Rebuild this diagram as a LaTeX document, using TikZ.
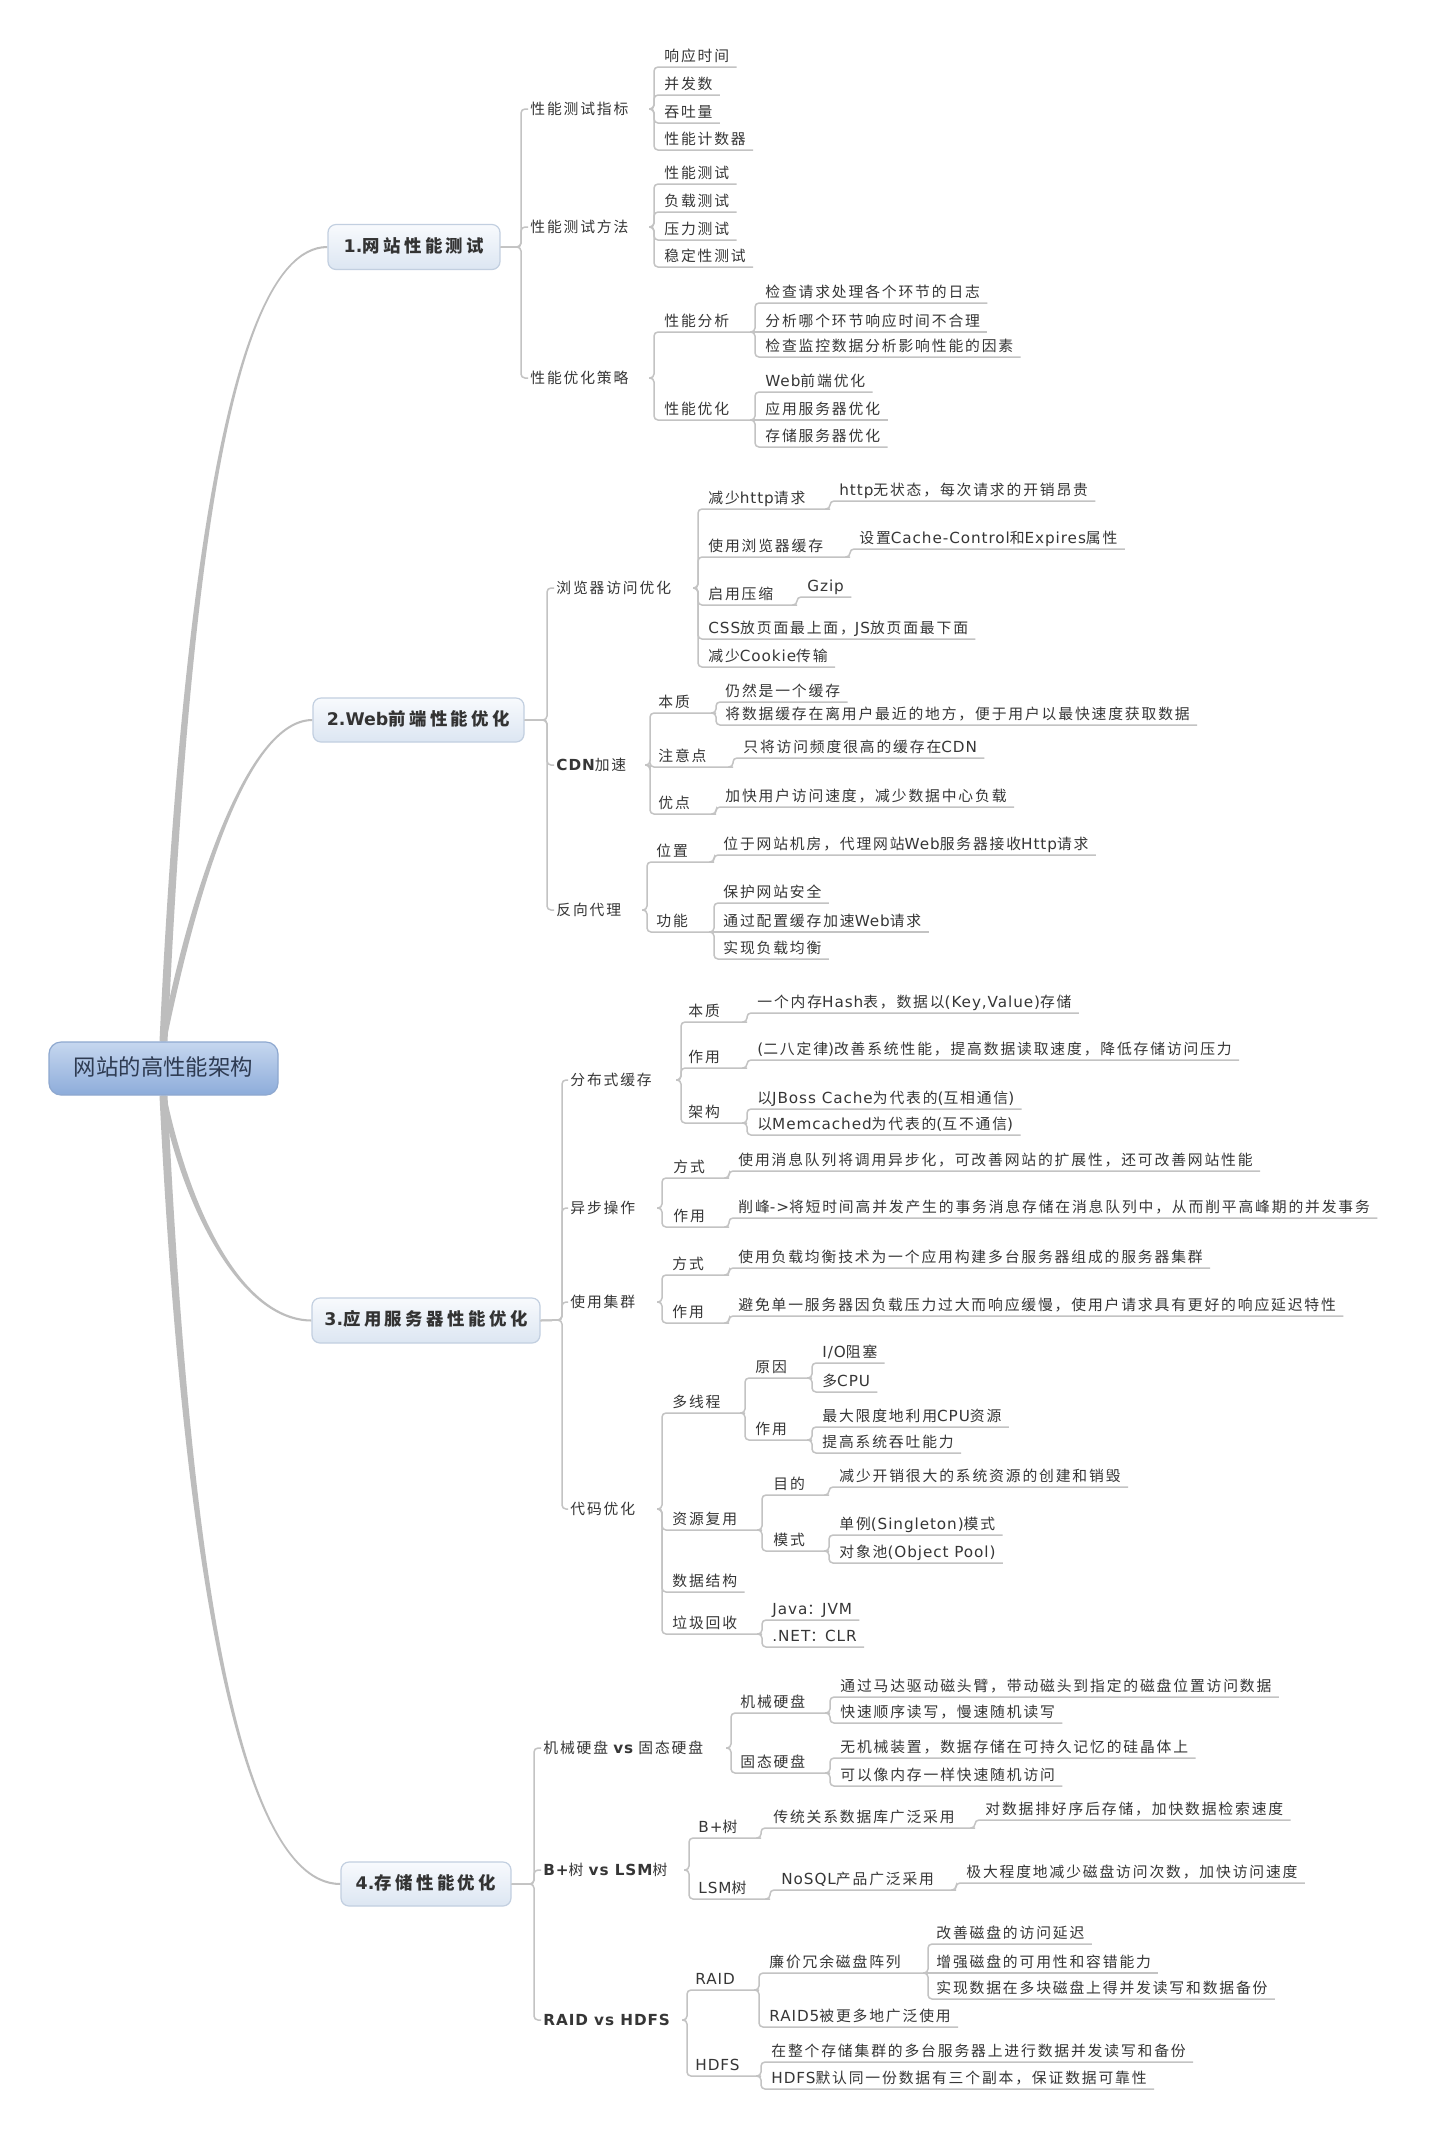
\documentclass[tikz,border=0pt]{standalone}
\usepackage{fontspec}
\usetikzlibrary{backgrounds}
\newfontfamily\cjkA[LetterSpace=12.5]{Noto Sans CJK SC}
\newfontfamily\cjkB[LetterSpace=20]{Noto Sans CJK SC}
\newfontfamily\cjkR{Noto Sans CJK SC}
\newfontfamily\latA[LetterSpace=6,Scale=1.03]{DejaVu Sans}
\newfontfamily\latB{DejaVu Sans}
\newcommand\curlat{\latA}
\newcommand\lat[1]{{\curlat #1}}
\newcommand\blat[1]{{\curlat\bfseries #1}}
\newcommand\leaffont{\cjkA\fontsize{7.4pt}{8.8pt}\selectfont\let\curlat\latA}
\newcommand\boxfont{\cjkB\fontsize{8.7pt}{10pt}\selectfont\bfseries\let\curlat\latB}
\newcommand\rootfont{\cjkR\fontsize{11.2pt}{13pt}\selectfont}
\definecolor{tx}{HTML}{363636}
\definecolor{ln}{HTML}{C3C3C3}
\definecolor{rl}{HTML}{BDBDBD}
\definecolor{bxt}{HTML}{F8FAFD}
\definecolor{bxb}{HTML}{DCE6F2}
\definecolor{bxd}{HTML}{C2CFE0}
\definecolor{bx}{HTML}{333333}
\definecolor{rtt}{HTML}{C6D7EF}
\definecolor{rtb}{HTML}{8DACDA}
\definecolor{rtd}{HTML}{8EA8CF}
\definecolor{rtx}{HTML}{2E3B52}
\tikzset{
  lf/.style={anchor=south west, xshift=-3.5pt, inner xsep=3.5pt, inner ysep=0pt, text depth=2.8pt, font=\leaffont, text=tx},
  ltwo/.style={anchor=west, inner xsep=0pt, inner ysep=0pt, text height=6pt, text depth=1pt, font=\leaffont, text=tx},
  con/.style={draw=ln, line width=0.75pt, rounded corners=2pt},
  topic/.style={rounded corners=4pt, draw=bxd, line width=0.6pt, top color=bxt, bottom color=bxb, text=bx, font=\boxfont, inner sep=0pt, text height=6.5pt, text depth=1.5pt},
  rootbox/.style={rounded corners=6pt, draw=rtd, line width=0.6pt, top color=rtt, bottom color=rtb, text=rtx, font=\rootfont, inner sep=0pt, minimum width=114.5pt, minimum height=26.5pt, text height=8.5pt, text depth=1.5pt}
}
\newcommand\lfnode[4]{\node[lf] (#1) at (#2,#3) {#4};}
\newcommand\conn[2]{\draw[con] ([xshift=-2.5pt]#1) -- (#1) |- (#2);}
\newcommand\hconn[2]{\draw[con] ([xshift=-2.5pt]#1) -- (#2);}
\newcommand\lcon[3]{\draw[con] (#1.east) -- (#2) |- ([xshift=-1pt]#3.west);}
\newcommand\rcup[7]{\fill[rl] ([xshift=-#7]#1) .. controls (#3-4,#4) and (#5,#6-1.5) .. ([yshift=0.5pt]#2.west) -- ([yshift=-0.5pt]#2.west) .. controls (#5,#6+1.5) and (#3+4,#4) .. ([xshift=#7]#1) -- cycle;}
\newcommand\rcdown[7]{\fill[rl] ([xshift=-#7]#1) .. controls (#3-4,#4) and (#5,#6+1.5) .. ([yshift=-0.5pt]#2.west) -- ([yshift=0.5pt]#2.west) .. controls (#5,#6-1.5) and (#3+4,#4) .. ([xshift=#7]#1) -- cycle;}
\begin{document}
\begin{tikzpicture}[x=0.5pt,y=-0.5pt]
\useasboundingbox (0,0) rectangle (1439,2138);
% root
\node[rootbox] (root) at (163.5,1068.5) {网站的高性能架构};
% ===== Section 1 =====
\node[topic,minimum width=86pt,minimum height=22.5pt] (b1) at (414,247) {\blat{1.}网站性能测试};
\coordinate (b1j) at (521,247);
\node[ltwo] (s1a) at (530,109) {性能测试指标};
\node[ltwo] (s1b) at (530,227) {性能测试方法};
\node[ltwo] (s1c) at (530,378) {性能优化策略};
\coordinate (s1aj) at (654,109);
\coordinate (s1bj) at (654,227);
\coordinate (s1cj) at (654,378);
\lfnode{s1a1}{664}{67}{响应时间}
\lfnode{s1a2}{664}{95}{并发数}
\lfnode{s1a3}{664}{123}{吞吐量}
\lfnode{s1a4}{664}{150}{性能计数器}
\lfnode{s1b1}{664}{184}{性能测试}
\lfnode{s1b2}{664}{212}{负载测试}
\lfnode{s1b3}{664}{240}{压力测试}
\lfnode{s1b4}{664}{267}{稳定性测试}
\lfnode{s1c1}{664}{332}{性能分析}
\coordinate (s1c1j) at (755,332);
\lfnode{s1c2}{664}{420}{性能优化}
\coordinate (s1c2j) at (755,420);
\lfnode{s1c1a}{765}{303}{检查请求处理各个环节的日志}
\lfnode{s1c1b}{765}{332}{分析哪个环节响应时间不合理}
\lfnode{s1c1c}{765}{357}{检查监控数据分析影响性能的因素}
\lfnode{s1c2a}{765}{392}{\lat{Web}前端优化}
\lfnode{s1c2b}{765}{420}{应用服务器优化}
\lfnode{s1c2c}{765}{447}{存储服务器优化}
\lcon{b1}{b1j}{s1a}
\lcon{b1}{b1j}{s1b}
\lcon{b1}{b1j}{s1c}
\conn{s1aj}{s1a1.south east}
\conn{s1aj}{s1a2.south east}
\conn{s1aj}{s1a3.south east}
\conn{s1aj}{s1a4.south east}
\conn{s1bj}{s1b1.south east}
\conn{s1bj}{s1b2.south east}
\conn{s1bj}{s1b3.south east}
\conn{s1bj}{s1b4.south east}
\conn{s1cj}{s1c1j}
\conn{s1cj}{s1c2j}
\conn{s1c1j}{s1c1a.south east}
\hconn{s1c1j}{s1c1b.south east}
\conn{s1c1j}{s1c1c.south east}
\conn{s1c2j}{s1c2a.south east}
\hconn{s1c2j}{s1c2b.south east}
\conn{s1c2j}{s1c2c.south east}
% ===== Section 2 =====
\node[topic,minimum width=105.5pt,minimum height=22pt] (b2) at (418.5,720) {\blat{2.Web}前端性能优化};
\coordinate (b2j) at (547,720);
\node[ltwo] (s2a) at (556,588) {浏览器访问优化};
\node[ltwo] (s2b) at (556,765) {\blat{CDN}加速};
\node[ltwo] (s2c) at (556,910) {反向代理};
\coordinate (s2aj) at (698,588);
\coordinate (s2bj) at (650,765);
\coordinate (s2cj) at (647,910);
\lfnode{s2a1}{708}{509}{减少\lat{http}请求}
\coordinate (s2a1j) at (830,509);
\lfnode{s2a1a}{839}{501}{\lat{http}无状态，每次请求的开销昂贵}
\lfnode{s2a2}{708}{557}{使用浏览器缓存}
\coordinate (s2a2j) at (850,557);
\lfnode{s2a2a}{859}{549}{设置\lat{Cache-Control}和\lat{Expires}属性}
\lfnode{s2a3}{708}{605}{启用压缩}
\coordinate (s2a3j) at (797,605);
\lfnode{s2a3a}{807}{597}{\lat{Gzip}}
\lfnode{s2a4}{708}{639}{\lat{CSS}放页面最上面，\lat{JS}放页面最下面}
\lfnode{s2a5}{708}{667}{减少\lat{Cookie}传输}
\lfnode{s2b1}{658}{713}{本质}
\coordinate (s2b1j) at (716,713);
\lfnode{s2b1a}{725}{702}{仍然是一个缓存}
\lfnode{s2b1b}{725}{725}{将数据缓存在离用户最近的地方，便于用户以最快速度获取数据}
\lfnode{s2b2}{658}{767}{注意点}
\coordinate (s2b2j) at (733,767);
\lfnode{s2b2a}{743}{758}{只将访问频度很高的缓存在\lat{CDN}}
\lfnode{s2b3}{658}{814}{优点}
\coordinate (s2b3j) at (716,814);
\lfnode{s2b3a}{725}{807}{加快用户访问速度，减少数据中心负载}
\lfnode{s2c1}{656}{862}{位置}
\coordinate (s2c1j) at (714,862);
\lfnode{s2c1a}{723}{855}{位于网站机房，代理网站\lat{Web}服务器接收\lat{Http}请求}
\lfnode{s2c2}{656}{932}{功能}
\coordinate (s2c2j) at (714,932);
\lfnode{s2c2a}{723}{903}{保护网站安全}
\lfnode{s2c2b}{723}{932}{通过配置缓存加速\lat{Web}请求}
\lfnode{s2c2c}{723}{959}{实现负载均衡}
\lcon{b2}{b2j}{s2a}
\lcon{b2}{b2j}{s2b}
\lcon{b2}{b2j}{s2c}
\conn{s2aj}{s2a1j}
\conn{s2aj}{s2a2j}
\conn{s2aj}{s2a3j}
\conn{s2aj}{s2a4.south east}
\conn{s2aj}{s2a5.south east}
\conn{s2a1j}{s2a1a.south east}
\conn{s2a2j}{s2a2a.south east}
\conn{s2a3j}{s2a3a.south east}
\conn{s2bj}{s2b1j}
\conn{s2bj}{s2b2j}
\conn{s2bj}{s2b3j}
\conn{s2b1j}{s2b1a.south east}
\conn{s2b1j}{s2b1b.south east}
\conn{s2b2j}{s2b2a.south east}
\conn{s2b3j}{s2b3a.south east}
\conn{s2cj}{s2c1j}
\conn{s2cj}{s2c2j}
\conn{s2c1j}{s2c1a.south east}
\conn{s2c2j}{s2c2a.south east}
\hconn{s2c2j}{s2c2b.south east}
\conn{s2c2j}{s2c2c.south east}
% ===== Section 3 =====
\node[topic,minimum width=114pt,minimum height=22.5pt] (b3) at (426,1320.5) {\blat{3.}应用服务器性能优化};
\coordinate (b3j) at (562,1320);
\node[ltwo] (s3a) at (570,1080) {分布式缓存};
\node[ltwo] (s3b) at (570,1208) {异步操作};
\node[ltwo] (s3c) at (570,1302) {使用集群};
\node[ltwo] (s3d) at (570,1509) {代码优化};
\coordinate (s3aj) at (681,1080);
\coordinate (s3bj) at (662,1208);
\coordinate (s3cj) at (662,1302);
\coordinate (s3dj) at (662,1509);
\lfnode{s3a1}{688}{1022}{本质}
\coordinate (s3a1j) at (747,1022);
\lfnode{s3a1a}{757}{1013}{一个内存\lat{Hash}表，数据以\lat{(Key,Value)}存储}
\lfnode{s3a2}{688}{1068}{作用}
\coordinate (s3a2j) at (747,1068);
\lfnode{s3a2a}{757}{1060}{\lat{(}二八定律\lat{)}改善系统性能，提高数据读取速度，降低存储访问压力}
\lfnode{s3a3}{688}{1123}{架构}
\coordinate (s3a3j) at (747,1123);
\lfnode{s3a3a}{757}{1109}{以\lat{JBoss Cache}为代表的\lat{(}互相通信\lat{)}}
\lfnode{s3a3b}{757}{1135}{以\lat{Memcached}为代表的\lat{(}互不通信\lat{)}}
\lfnode{s3b1}{673}{1178}{方式}
\coordinate (s3b1j) at (729,1178);
\lfnode{s3b1a}{738}{1171}{使用消息队列将调用异步化，可改善网站的扩展性，还可改善网站性能}
\lfnode{s3b2}{673}{1227}{作用}
\coordinate (s3b2j) at (729,1227);
\lfnode{s3b2a}{738}{1218}{削峰\lat{->}将短时间高并发产生的事务消息存储在消息队列中，从而削平高峰期的并发事务}
\lfnode{s3c1}{672}{1275}{方式}
\coordinate (s3c1j) at (729,1275);
\lfnode{s3c1a}{738}{1268}{使用负载均衡技术为一个应用构建多台服务器组成的服务器集群}
\lfnode{s3c2}{672}{1323}{作用}
\coordinate (s3c2j) at (729,1323);
\lfnode{s3c2a}{738}{1316}{避免单一服务器因负载压力过大而响应缓慢，使用户请求具有更好的响应延迟特性}
\lfnode{s3d1}{672}{1413}{多线程}
\coordinate (s3d1j) at (745,1413);
\lfnode{s3d1a}{755}{1378}{原因}
\coordinate (s3d1aj) at (812,1378);
\lfnode{s3d1a1}{822}{1363}{\lat{I/O}阻塞}
\lfnode{s3d1a2}{822}{1392}{多\lat{CPU}}
\lfnode{s3d1b}{755}{1440}{作用}
\coordinate (s3d1bj) at (812,1440);
\lfnode{s3d1b1}{822}{1427}{最大限度地利用\lat{CPU}资源}
\lfnode{s3d1b2}{822}{1453}{提高系统吞吐能力}
\lfnode{s3d2}{672}{1530}{资源复用}
\coordinate (s3d2j) at (762,1530);
\lfnode{s3d2a}{773}{1495}{目的}
\coordinate (s3d2aj) at (829,1495);
\lfnode{s3d2a1}{839}{1487}{减少开销很大的系统资源的创建和销毁}
\lfnode{s3d2b}{773}{1551}{模式}
\coordinate (s3d2bj) at (829,1551);
\lfnode{s3d2b1}{839}{1535}{单例\lat{(Singleton)}模式}
\lfnode{s3d2b2}{839}{1563}{对象池\lat{(Object Pool)}}
\lfnode{s3d3}{672}{1592}{数据结构}
\lfnode{s3d4}{672}{1634}{垃圾回收}
\coordinate (s3d4j) at (762,1634);
\lfnode{s3d4a}{772}{1620}{\lat{Java}：\lat{JVM}}
\lfnode{s3d4b}{772}{1647}{\lat{.NET}：\lat{CLR}}
\lcon{b3}{b3j}{s3a}
\lcon{b3}{b3j}{s3b}
\lcon{b3}{b3j}{s3c}
\lcon{b3}{b3j}{s3d}
\conn{s3aj}{s3a1j}
\conn{s3aj}{s3a2j}
\conn{s3aj}{s3a3j}
\conn{s3a1j}{s3a1a.south east}
\conn{s3a2j}{s3a2a.south east}
\conn{s3a3j}{s3a3a.south east}
\conn{s3a3j}{s3a3b.south east}
\conn{s3bj}{s3b1j}
\conn{s3bj}{s3b2j}
\conn{s3b1j}{s3b1a.south east}
\conn{s3b2j}{s3b2a.south east}
\conn{s3cj}{s3c1j}
\conn{s3cj}{s3c2j}
\conn{s3c1j}{s3c1a.south east}
\conn{s3c2j}{s3c2a.south east}
\conn{s3dj}{s3d1j}
\conn{s3dj}{s3d2j}
\conn{s3dj}{s3d3.south east}
\conn{s3dj}{s3d4j}
\conn{s3d1j}{s3d1aj}
\conn{s3d1j}{s3d1bj}
\conn{s3d1aj}{s3d1a1.south east}
\conn{s3d1aj}{s3d1a2.south east}
\conn{s3d1bj}{s3d1b1.south east}
\conn{s3d1bj}{s3d1b2.south east}
\conn{s3d2j}{s3d2aj}
\conn{s3d2j}{s3d2bj}
\conn{s3d2aj}{s3d2a1.south east}
\conn{s3d2bj}{s3d2b1.south east}
\conn{s3d2bj}{s3d2b2.south east}
\conn{s3d4j}{s3d4a.south east}
\conn{s3d4j}{s3d4b.south east}
% ===== Section 4 =====
\node[topic,minimum width=85pt,minimum height=22pt] (b4) at (426,1884) {\blat{4.}存储性能优化};
\coordinate (b4j) at (534,1884);
\node[ltwo] (s4a) at (543,1748) {机械硬盘 \blat{vs} 固态硬盘};
\node[ltwo] (s4b) at (543,1870) {\blat{B+}树 \blat{vs LSM}树};
\node[ltwo] (s4c) at (543,2020) {\blat{RAID vs HDFS}};
\coordinate (s4aj) at (731,1748);
\coordinate (s4bj) at (689,1870);
\coordinate (s4cj) at (687,2020);
\lfnode{s4a1}{740}{1713}{机械硬盘}
\coordinate (s4a1j) at (830,1713);
\lfnode{s4a1a}{840}{1697}{通过马达驱动磁头臂，带动磁头到指定的磁盘位置访问数据}
\lfnode{s4a1b}{840}{1723}{快速顺序读写，慢速随机读写}
\lfnode{s4a2}{740}{1773}{固态硬盘}
\coordinate (s4a2j) at (830,1773);
\lfnode{s4a2a}{840}{1758}{无机械装置，数据存储在可持久记忆的硅晶体上}
\lfnode{s4a2b}{840}{1786}{可以像内存一样快速随机访问}
\lfnode{s4b1}{698}{1838}{\lat{B+}树}
\coordinate (s4b1j) at (761,1838);
\lfnode{s4b1a}{773}{1828}{传统关系数据库广泛采用}
\coordinate (s4b1aj) at (975,1828);
\lfnode{s4b1a1}{985}{1820}{对数据排好序后存储，加快数据检索速度}
\lfnode{s4b2}{698}{1899}{\lat{LSM}树}
\coordinate (s4b2j) at (770,1899);
\lfnode{s4b2a}{781}{1890}{\lat{NoSQL}产品广泛采用}
\coordinate (s4b2aj) at (956,1890);
\lfnode{s4b2a1}{966}{1883}{极大程度地减少磁盘访问次数，加快访问速度}
\lfnode{s4c1}{695}{1990}{\lat{RAID}}
\coordinate (s4c1j) at (759,1990);
\lfnode{s4c1a}{769}{1973}{廉价冗余磁盘阵列}
\coordinate (s4c1aj) at (928,1973);
\lfnode{s4c1a1}{936}{1944}{改善磁盘的访问延迟}
\lfnode{s4c1a2}{936}{1973}{增强磁盘的可用性和容错能力}
\lfnode{s4c1a3}{936}{1999}{实现数据在多块磁盘上得并发读写和数据备份}
\lfnode{s4c1b}{769}{2027}{\lat{RAID5}被更多地广泛使用}
\lfnode{s4c2}{695}{2076}{\lat{HDFS}}
\coordinate (s4c2j) at (761,2076);
\lfnode{s4c2a}{771}{2062}{在整个存储集群的多台服务器上进行数据并发读写和备份}
\lfnode{s4c2b}{771}{2089}{\lat{HDFS}默认同一份数据有三个副本，保证数据可靠性}
\lcon{b4}{b4j}{s4a}
\lcon{b4}{b4j}{s4b}
\lcon{b4}{b4j}{s4c}
\conn{s4aj}{s4a1j}
\conn{s4aj}{s4a2j}
\conn{s4a1j}{s4a1a.south east}
\conn{s4a1j}{s4a1b.south east}
\conn{s4a2j}{s4a2a.south east}
\conn{s4a2j}{s4a2b.south east}
\conn{s4bj}{s4b1j}
\conn{s4bj}{s4b2j}
\conn{s4b1j}{s4b1aj}
\conn{s4b1aj}{s4b1a1.south east}
\conn{s4b2j}{s4b2aj}
\conn{s4b2aj}{s4b2a1.south east}
\conn{s4cj}{s4c1j}
\conn{s4cj}{s4c2j}
\conn{s4c1j}{s4c1aj}
\conn{s4c1j}{s4c1b.south east}
\conn{s4c1aj}{s4c1a1.south east}
\hconn{s4c1aj}{s4c1a2.south east}
\conn{s4c1aj}{s4c1a3.south east}
\conn{s4c2j}{s4c2a.south east}
\conn{s4c2j}{s4c2b.south east}
% ===== root curves =====
\begin{pgfonlayer}{background}
\fill[white] (0,0) rectangle (1439,2138);
\rcup{root.north}{b1}{180}{700}{215}{247}{2pt}
\rcup{root.north}{b2}{185}{930}{240}{720}{1.3pt}
\rcdown{root.south}{b3}{185}{1205}{240}{1320}{1.3pt}
\rcdown{root.south}{b4}{180}{1434}{220}{1884}{2pt}
\end{pgfonlayer}
\end{tikzpicture}
\end{document}
